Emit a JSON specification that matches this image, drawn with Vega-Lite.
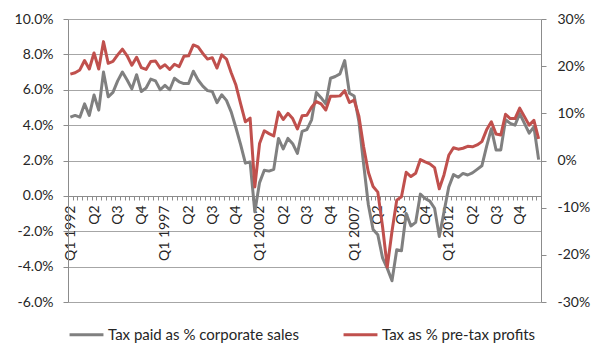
{
  "$schema": "https://vega.github.io/schema/vega-lite/v6.json",
  "width": 473,
  "height": 283,
  "autosize": {"type": "none"},
  "padding": {"left": 68, "top": 19, "right": 61, "bottom": 60},
  "background": "white",
  "data": {"values": [
    {"period":"Q1 1992","sales":4.45,"profits":18.3},{"period":"Q2 1992","sales":4.55,"profits":18.6},{"period":"Q3 1992","sales":4.45,"profits":19.2},{"period":"Q4 1992","sales":5.2,"profits":21.2},
    {"period":"Q1 1993","sales":4.55,"profits":19.4},{"period":"Q2 1993","sales":5.7,"profits":22.8},{"period":"Q3 1993","sales":4.85,"profits":19.4},{"period":"Q4 1993","sales":7.0,"profits":25.2},
    {"period":"Q1 1994","sales":5.6,"profits":20.6},{"period":"Q2 1994","sales":5.85,"profits":21.0},{"period":"Q3 1994","sales":6.5,"profits":22.4},{"period":"Q4 1994","sales":7.0,"profits":23.6},
    {"period":"Q1 1995","sales":6.55,"profits":22.2},{"period":"Q2 1995","sales":6.05,"profits":20.2},{"period":"Q3 1995","sales":6.85,"profits":21.9},{"period":"Q4 1995","sales":5.9,"profits":19.7},
    {"period":"Q1 1996","sales":6.1,"profits":19.3},{"period":"Q2 1996","sales":6.6,"profits":21.0},{"period":"Q3 1996","sales":6.5,"profits":21.1},{"period":"Q4 1996","sales":6.0,"profits":19.6},
    {"period":"Q1 1997","sales":6.25,"profits":20.3},{"period":"Q2 1997","sales":6.0,"profits":19.3},{"period":"Q3 1997","sales":6.65,"profits":20.4},{"period":"Q4 1997","sales":6.45,"profits":19.9},
    {"period":"Q1 1998","sales":6.35,"profits":22.1},{"period":"Q2 1998","sales":6.35,"profits":22.2},{"period":"Q3 1998","sales":7.05,"profits":24.5},{"period":"Q4 1998","sales":6.55,"profits":24.1},
    {"period":"Q1 1999","sales":6.2,"profits":22.7},{"period":"Q2 1999","sales":5.95,"profits":21.5},{"period":"Q3 1999","sales":5.9,"profits":21.8},{"period":"Q4 1999","sales":5.27,"profits":19.6},
    {"period":"Q1 2000","sales":5.72,"profits":22.4},{"period":"Q2 2000","sales":5.4,"profits":21.5},{"period":"Q3 2000","sales":4.75,"profits":18.6},{"period":"Q4 2000","sales":3.85,"profits":16.0},
    {"period":"Q1 2001","sales":2.9,"profits":12.0},{"period":"Q2 2001","sales":1.85,"profits":8.2},{"period":"Q3 2001","sales":1.92,"profits":9.0},{"period":"Q4 2001","sales":-0.9,"profits":-5.6},
    {"period":"Q1 2002","sales":0.75,"profits":3.6},{"period":"Q2 2002","sales":1.45,"profits":6.3},{"period":"Q3 2002","sales":1.4,"profits":5.7},{"period":"Q4 2002","sales":1.5,"profits":5.2},
    {"period":"Q1 2003","sales":3.25,"profits":10.3},{"period":"Q2 2003","sales":2.65,"profits":8.7},{"period":"Q3 2003","sales":3.25,"profits":10.0},{"period":"Q4 2003","sales":2.95,"profits":8.9},
    {"period":"Q1 2004","sales":2.4,"profits":6.7},{"period":"Q2 2004","sales":3.65,"profits":9.5},{"period":"Q3 2004","sales":3.75,"profits":9.6},{"period":"Q4 2004","sales":4.3,"profits":11.3},
    {"period":"Q1 2005","sales":5.85,"profits":12.5},{"period":"Q2 2005","sales":5.55,"profits":12.0},{"period":"Q3 2005","sales":5.2,"profits":10.7},{"period":"Q4 2005","sales":6.65,"profits":13.6},
    {"period":"Q1 2006","sales":6.75,"profits":13.6},{"period":"Q2 2006","sales":6.9,"profits":13.7},{"period":"Q3 2006","sales":7.65,"profits":14.8},{"period":"Q4 2006","sales":5.8,"profits":12.3},
    {"period":"Q1 2007","sales":5.65,"profits":12.8},{"period":"Q2 2007","sales":4.2,"profits":9.4},{"period":"Q3 2007","sales":1.8,"profits":2.9},{"period":"Q4 2007","sales":-0.5,"profits":-2.5},
    {"period":"Q1 2008","sales":-1.9,"profits":-5.5},{"period":"Q2 2008","sales":-2.2,"profits":-6.7},{"period":"Q3 2008","sales":-3.5,"profits":-14.0},{"period":"Q4 2008","sales":-4.1,"profits":-22.6},
    {"period":"Q1 2009","sales":-4.8,"profits":-15.0},{"period":"Q2 2009","sales":-3.05,"profits":-8.4},{"period":"Q3 2009","sales":-3.1,"profits":-7.7},{"period":"Q4 2009","sales":-1.0,"profits":-2.5},
    {"period":"Q1 2010","sales":-1.7,"profits":-3.4},{"period":"Q2 2010","sales":-1.5,"profits":-2.7},{"period":"Q3 2010","sales":0.1,"profits":0.2},{"period":"Q4 2010","sales":-0.15,"profits":-0.3},
    {"period":"Q1 2011","sales":-0.3,"profits":-0.7},{"period":"Q2 2011","sales":-0.7,"profits":-1.5},{"period":"Q3 2011","sales":-2.3,"profits":-6.0},{"period":"Q4 2011","sales":-0.9,"profits":-3.0},
    {"period":"Q1 2012","sales":0.5,"profits":1.1},{"period":"Q2 2012","sales":1.2,"profits":2.7},{"period":"Q3 2012","sales":1.05,"profits":2.4},{"period":"Q4 2012","sales":1.27,"profits":2.6},
    {"period":"Q1 2013","sales":1.18,"profits":3.0},{"period":"Q2 2013","sales":1.3,"profits":2.9},{"period":"Q3 2013","sales":1.5,"profits":3.3},{"period":"Q4 2013","sales":1.7,"profits":4.0},
    {"period":"Q1 2014","sales":2.8,"profits":6.5},{"period":"Q2 2014","sales":3.8,"profits":8.2},{"period":"Q3 2014","sales":2.6,"profits":5.6},{"period":"Q4 2014","sales":2.6,"profits":5.4},
    {"period":"Q1 2015","sales":4.3,"profits":9.8},{"period":"Q2 2015","sales":4.1,"profits":8.9},{"period":"Q3 2015","sales":4.0,"profits":8.9},{"period":"Q4 2015","sales":4.65,"profits":11.1},
    {"period":"Q1 2016","sales":4.1,"profits":9.3},{"period":"Q2 2016","sales":3.55,"profits":7.5},{"period":"Q3 2016","sales":3.9,"profits":8.5},{"period":"Q4 2016","sales":2.05,"profits":4.6}
  ]},
  "encoding": {
    "x": {
      "field": "period",
      "type": "ordinal",
      "sort": null,
      "bandPosition": 0.5,
      "scale": {"type": "band", "paddingInner": 0, "paddingOuter": 0},
      "axis": {
        "orient": "bottom",
        "offset": -106,
        "title": null,
        "grid": false,
        "tickBand": "extent",
        "tickSize": 4,
        "tickColor": "#8c8c8c",
        "domainColor": "#8c8c8c",
        "labelAngle": -90,
        "labelPadding": 5,
        "labelFont": "Lato",
        "labelFontSize": 14,
        "labelColor": "#262626",
        "labelOverlap": false,
        "labelExpr": "indexof(['Q1 1992','Q2 1993','Q3 1994','Q4 1995','Q1 1997','Q2 1998','Q3 1999','Q4 2000','Q1 2002','Q2 2003','Q3 2004','Q4 2005','Q1 2007','Q2 2008','Q3 2009','Q4 2010','Q1 2012','Q2 2013','Q3 2014','Q4 2015'], datum.value) < 0 ? '' : (slice(datum.value, 0, 2) == 'Q1' ? datum.value : slice(datum.value, 0, 2))"
      }
    }
  },
  "layer": [
    {
      "mark": {"type": "line", "strokeWidth": 3, "strokeJoin": "round"},
      "encoding": {
        "y": {
          "field": "sales",
          "type": "quantitative",
          "scale": {"domain": [-6, 10], "nice": false, "zero": false},
          "axis": {
            "orient": "left",
            "title": null,
            "values": [-6, -4, -2, 0, 2, 4, 6, 8, 10],
            "labelExpr": "(datum.value < 0 ? '-' : '') + format(abs(datum.value), '.1f') + '%'",
            "grid": true,
            "gridColor": "#a6a6a6",
            "gridWidth": 1,
            "domainColor": "#8c8c8c",
            "tickColor": "#8c8c8c",
            "tickSize": 5,
            "labelPadding": 10,
            "labelFont": "Lato",
            "labelFontSize": 14,
            "labelColor": "#262626"
          }
        },
        "color": {
          "datum": "Tax paid as % corporate sales",
          "type": "nominal",
          "scale": {"domain": ["Tax paid as % corporate sales", "Tax as % pre-tax profits"], "range": ["#808080", "#c0504d"]},
          "legend": {
            "orient": "bottom",
            "direction": "horizontal",
            "title": null,
            "offset": 14,
            "symbolType": "stroke",
            "symbolSize": 1150,
            "symbolStrokeWidth": 3,
            "labelFont": "Lato",
            "labelFontSize": 15,
            "labelColor": "#262626",
            "labelLimit": 400,
            "labelOffset": 3,
            "columnPadding": 38
          }
        }
      }
    },
    {
      "mark": {"type": "line", "strokeWidth": 3, "strokeJoin": "round"},
      "encoding": {
        "y": {
          "field": "profits",
          "type": "quantitative",
          "scale": {"domain": [-30, 30], "nice": false, "zero": false},
          "axis": {
            "orient": "right",
            "title": null,
            "values": [-30, -20, -10, 0, 10, 20, 30],
            "labelExpr": "(datum.value < 0 ? '-' : '') + abs(datum.value) + '%'",
            "grid": false,
            "domainColor": "#8c8c8c",
            "tickColor": "#8c8c8c",
            "tickSize": 5,
            "labelPadding": 11,
            "labelFont": "Lato",
            "labelFontSize": 14,
            "labelColor": "#262626"
          }
        },
        "color": {"datum": "Tax as % pre-tax profits", "type": "nominal"}
      }
    }
  ],
  "resolve": {"scale": {"y": "independent"}},
  "config": {"view": {"stroke": null}}
}
